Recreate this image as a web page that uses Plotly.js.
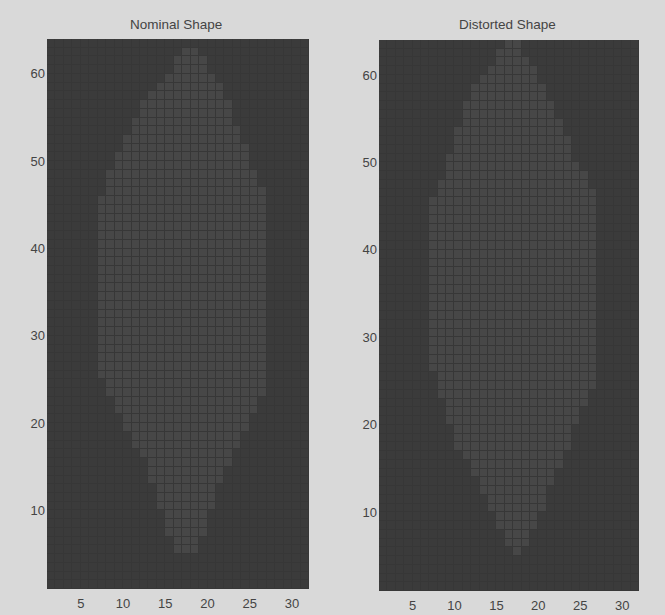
<!DOCTYPE html>
<html>
<head>
<meta charset="utf-8">
<script src="https://cdn.plot.ly/plotly-3.0.1.min.js"></script>
<style>html,body{margin:0;padding:0;background:#d9d9d9;}#chart{width:665px;height:615px;}</style>
</head>
<body>
<div id="chart"></div>
<script>
// Grid vertex coordinates (pcolor style: 32 x 64 vertices -> 31 x 63 cells)
var xEdges = [];
for (var i = 1; i <= 32; i++) xEdges.push(i);
var yEdges = [];
for (var j = 1; j <= 64; j++) yEdges.push(j);

var xTicks = [5, 10, 15, 20, 25, 30];
var yTicks = [10, 20, 30, 40, 50, 60];
var titles = ["Nominal Shape", "Distorted Shape"];

// First / last filled column of each cell row (rows 1..63), 0 = empty row
var nominalLeft = [0,0,0,0,16,16,15,15,15,14,14,14,13,13,13,12,11,11,10,10,9,9,8,8,
  7,7,7,7,7,7,7,7,7,7,7,7,7,7,7,7,7,7,7,7,7,
  8,8,8,9,9,10,10,11,11,12,12,13,14,15,16,16,17,0];
var nominalRight = [0,0,0,0,18,18,19,19,19,20,20,20,21,21,22,22,23,23,24,24,25,25,26,26,
  26,26,26,26,26,26,26,26,26,26,26,26,26,26,26,26,26,26,26,26,26,
  26,25,25,24,24,24,23,23,22,22,22,21,21,20,19,19,18,0];

var distortedLeft = [0,0,0,0,17,16,16,15,15,14,14,13,13,12,12,11,10,10,10,9,9,9,8,8,8,
  7,7,7,7,7,7,7,7,7,7,7,7,7,7,7,7,7,7,7,7,
  8,8,9,9,9,10,10,10,11,11,11,12,12,13,14,15,15,16];
var distortedRight = [0,0,0,0,17,18,18,19,19,20,20,20,21,21,22,22,23,23,23,24,24,25,25,26,26,
  26,26,26,26,26,26,26,26,26,26,26,26,26,26,26,26,26,26,26,26,
  26,25,25,24,23,23,23,22,22,21,21,20,20,19,19,18,17,17];

function buildZ(left, right) {
  var z = [];
  for (var r = 0; r < 63; r++) {
    var row = [];
    for (var c = 1; c <= 31; c++) {
      row.push(left[r] > 0 && c >= left[r] && c <= right[r] ? 1 : 0);
    }
    z.push(row);
  }
  return z;
}

var scale = [[0, '#3b3b3b'], [1, '#474747']];
function hm(z, xa, ya) {
  return {type: 'heatmap', x: xEdges, y: yEdges, z: z, xaxis: xa, yaxis: ya,
    colorscale: scale, zmin: 0, zmax: 1, showscale: false, xgap: 1, ygap: 1,
    hoverinfo: 'skip'};
}

var data = [
  hm(buildZ(nominalLeft, nominalRight), 'x', 'y'),
  hm(buildZ(distortedLeft, distortedRight), 'x2', 'y2')
];

var tickFont = {family: 'Liberation Sans, Arial, sans-serif', size: 13, color: '#444444'};
var titleFont = {family: 'Liberation Sans, Arial, sans-serif', size: 13.5, color: '#444444'};
function xax(dom) {
  return {domain: dom, range: [1, 32], tickvals: xTicks, ticks: '', showgrid: false,
    zeroline: false, showline: false, tickfont: tickFont, fixedrange: true,
    ticklabelstandoff: 5};
}
function yax(dom, anchor) {
  return {domain: dom, range: [1, 64], tickvals: yTicks, ticks: '', showgrid: false,
    zeroline: false, showline: false, tickfont: tickFont, anchor: anchor, fixedrange: true,
    ticklabelstandoff: 1};
}

var layout = {
  width: 665, height: 615,
  margin: {l: 0, r: 0, t: 0, b: 0},
  paper_bgcolor: '#d9d9d9',
  plot_bgcolor: '#373737',
  showlegend: false,
  xaxis: xax([47/665, 309/665]),
  yaxis: yax([26/615, 576/615], 'x'),
  xaxis2: Object.assign(xax([379/665, 639/665]), {anchor: 'y2'}),
  yaxis2: yax([24/615, 575/615], 'x2'),
  annotations: [
    {text: titles[0], x: 176/665, y: 1 - 24/615, xref: 'paper', yref: 'paper',
     showarrow: false, font: titleFont, xanchor: 'center', yanchor: 'middle'},
    {text: titles[1], x: 507/665, y: 1 - 24/615, xref: 'paper', yref: 'paper',
     showarrow: false, font: titleFont, xanchor: 'center', yanchor: 'middle'}
  ]
};

Plotly.newPlot('chart', data, layout, {staticPlot: true, displayModeBar: false});
</script>
</body>
</html>
